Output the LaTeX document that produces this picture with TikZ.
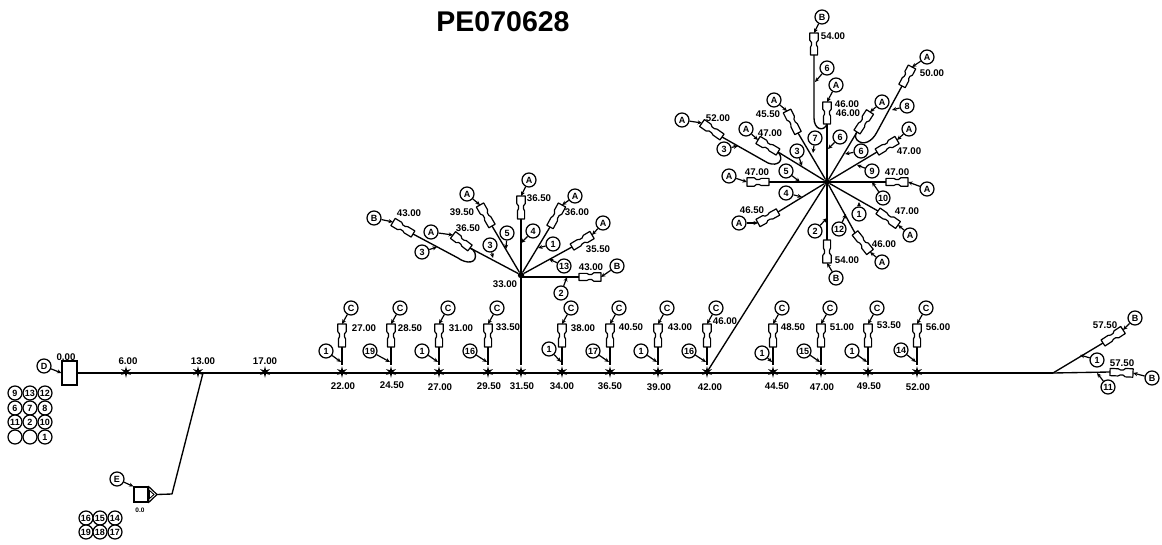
\documentclass[tikz,border=0pt]{standalone}
\usepackage{fontspec}
\setmainfont{Liberation Sans}
\usetikzlibrary{arrows.meta,shapes.geometric}
\newcount\nn
\tikzset{
  wire/.style={line width=1.35pt,line join=round},
  lead/.style={line width=1.2pt,-{Stealth[length=4.5pt,width=4pt]}},
  circ/.style={circle,draw,line width=1.25pt,inner sep=0pt,minimum size=14pt,fill=white,font=\fontsize{9}{9}\selectfont\bfseries},
  val/.style={inner sep=0pt,font=\fontsize{9.7}{10}\selectfont\bfseries},
  body/.style={draw,fill=white,line width=1.2pt,line join=round},
  splice/.style={star,star points=6,star point ratio=3,fill=black,inner sep=0pt,minimum size=12pt},
  hubdot/.style={circle,fill=black,inner sep=0pt,minimum size=6.5pt},
}
% bone{name}{head x}{head y}{tail x}{tail y}
\newcommand\bone[5]{%
  \pgfmathsetmacro\bang{atan2(-(#5-#3),#4-#2)}%
  \pgfmathsetmacro\blen{veclen(#4-#2,#5-#3)}%
  \begin{scope}[shift={(#2,#3)},rotate=\bang,x=1pt,y=1pt]
    \draw[body] (0,-4.2) -- ({0.33*\blen},-4.2) -- ({0.43*\blen},-2.5) -- ({0.55*\blen},-2.5) -- ({0.65*\blen},-3.6) -- (\blen,-3.6) -- (\blen,3.6) -- ({0.65*\blen},3.6) -- ({0.55*\blen},2.5) -- ({0.43*\blen},2.5) -- ({0.33*\blen},4.2) -- (0,4.2) -- cycle;
    \coordinate (#1-h) at (0,0);
    \coordinate (#1-t) at (\blen,0);
  \end{scope}}
% numbered circle with a leader to the wire
\newcommand\cl[5]{\global\advance\nn by 1
  \node[circ] (c\the\nn) at (#1,#2) {#3};
  \coordinate (e\the\nn) at (#4,#5);
  \draw[lead] (c\the\nn) -- (e\the\nn);}
% lettered circle with a leader to a bone head
\newcommand\tip[4]{\global\advance\nn by 1
  \node[circ] (c\the\nn) at (#2,#3) {#4};
  \draw[lead] (c\the\nn) -- (#1-h);}
\newcommand\val[3]{\global\advance\nn by 1
  \node[val] (v\the\nn) at (#1,#2) {#3};}
\newcommand\plain[3]{\global\advance\nn by 1
  \node[circ] (c\the\nn) at (#1,#2) {#3};}
\begin{document}
\begin{tikzpicture}[x=1pt,y=-1pt]
\useasboundingbox (0,0) rectangle (1162,545);
\node[inner sep=0pt,font=\fontsize{28.5}{30}\selectfont\bfseries] (title) at (503,22) {PE070628};

% legends
\foreach \x/\y/\t in {15/393/9,30/393/13,45/393/12,15/408/6,30/408/7,45/408/8,15/422/11,30/422/2,45/422/10,15/437/,30/437/,45/437/1,86/518/16,100/518/15,115/518/14,86/532/19,100/532/18,115/532/17}{\plain{\x}{\y}{\t}}

% left end
\node[draw,fill=white,line width=1.1pt,minimum width=15pt,minimum height=24pt,inner sep=0pt] (rect) at (69.5,373) {};
\node[circ] (cD) at (44,366) {D};
\draw[lead] (cD) -- (rect.west);
\val{66}{357}{0.00}
\coordinate (fork) at (1053,373);
\draw[wire] (rect.east) -- (fork);
\foreach \x/\t/\lx in {126/6.00/128,198/13.00/203,265/17.00/265}{
  \node[splice] (s\x) at (\x,372) {};
  \val{\lx}{361}{\t}}
% lower left connector
\coordinate (j13) at (203,373);
\coordinate (bend) at (172,494);
\node[draw,fill=white,line width=1.1pt,minimum width=14pt,minimum height=15pt,inner sep=0pt] (box) at (141,494.5) {};
\coordinate (tipE) at (157,494.5);
\draw[body] (box.north east) -- (tipE) -- (box.south east) -- cycle;
\draw[line width=0.9pt] (149.5,490.5) -- (154,494.5) -- (149.5,498.5) -- cycle;
\draw[wire] (j13) -- (bend) -- (tipE);
\node[circ] (cE) at (117,479) {E};
\draw[lead] (cE) -- (box.north west);
\node[val,font=\fontsize{6.5}{7}\selectfont\bfseries] (v00) at (140,510) {0.0};

% drops along the main line
\foreach \x/\n/\nx/\ny/\t/\tx/\ty/\b/\bx/\by in {
 342/1/326/351/27.00/364/328/22.00/343/386,
 391/19/370/351/28.50/410/328/24.50/392/385,
 439/1/422/351/31.00/461/328/27.00/440/387,
 488/16/470/351/33.50/508/327/29.50/489/386,
 562/1/549/349/38.00/583/328/34.00/562/386,
 610/17/593/351/40.50/631/327/36.50/610/386,
 658/1/641/351/43.00/680/327/39.00/659/387,
 707/16/689/351/46.00/725/321/42.00/710/387,
 773/1/762/353/48.50/793/327/44.50/777/386,
 821/15/804/351/51.00/842/327/47.00/822/387,
 868/1/852/351/53.50/889/325/49.50/869/386,
 917/14/901/350/56.00/938/327/52.00/918/387}{
  \node[splice] (d\x) at (\x,372) {};
  \bone{b\x}{\x}{324}{\x}{347}
  \draw[wire] (b\x-t) -- (d\x);
  \pgfmathsetmacro\cx{\x+9}
  \tip{b\x}{\cx}{308}{C}
  \pgfmathsetmacro\ex{\x-1}
  \cl{\nx}{\ny}{\n}{\ex}{362}
  \val{\tx}{\ty}{\t}
  \val{\bx}{\by}{\b}
}
\node[splice] (d521) at (521,372) {};
\val{522}{386}{31.50}

% first star
\node[hubdot] (hubA) at (521,275) {};
\draw[wire] (d521) -- (hubA);
\val{505}{284}{33.00}
\bone{a1}{521}{196}{521}{219}
\bone{a2}{480}{205}{492}{226}
\bone{a3}{453}{235}{470}{248}
\bone{a4}{393}{222}{413}{234}
\bone{a5}{562}{205}{550}{227}
\bone{a6}{592}{235}{572}{247}
\bone{a7}{601}{277}{579}{277}
\foreach \n in {1,2,3,5,6}{\draw[wire] (hubA) -- (a\n-t);}
\coordinate (hubAr) at (521,277);
\draw[wire] (hubAr) -- (a7-t);
\draw[wire] (a4-t) -- (458,258) .. controls (466,264) and (478,264) .. (475,253) .. controls (474,250) and (472,249) .. (a3-t);
\tip{a1}{529}{180}{A}\val{539}{198}{36.50}
\tip{a2}{467}{194}{A}\val{462}{212}{39.50}
\tip{a3}{431}{232}{A}\val{468}{228}{36.50}
\tip{a4}{374}{218}{B}\val{409}{213}{43.00}
\tip{a5}{575}{196}{A}\val{577}{212}{36.00}
\tip{a6}{603}{223}{A}\val{598}{249}{35.50}
\tip{a7}{617}{266}{B}\val{591}{267}{43.00}
\cl{533}{231}{4}{521}{243}
\cl{507}{233}{5}{506}{249}
\cl{490}{245}{3}{493}{258}
\cl{422}{252}{3}{437}{247}
\cl{553}{244}{1}{538}{248}
\cl{564}{266}{13}{549}{259}
\cl{561}{293}{2}{567}{277}

% second star
\node[hubdot] (hubB) at (827,182) {};
\draw[wire] (d707) -- (hubB);
\bone{h1}{827}{263}{827}{240}
\bone{h2}{870}{252}{855}{233}
\bone{h3}{898}{225}{878}{211}
\bone{h4}{908}{182}{886}{182}
\bone{h5}{897}{140}{877}{152}
\bone{h6}{870}{112}{857}{132}
\bone{h7}{912}{67}{902}{86}
\bone{h8}{827}{102}{827}{124}
\bone{h9}{814}{33}{814}{55}
\bone{h10}{787}{111}{798}{133}
\bone{h11}{702}{123}{722}{137}
\bone{h12}{758}{140}{778}{152}
\bone{h13}{747}{182}{769}{182}
\bone{h14}{758}{223}{778}{212}
\foreach \n in {1,2,3,4,5,6,8,10,12,13,14}{\draw[wire] (hubB) -- (h\n-t);}
\draw[wire] (h7-t) -- (877,132) .. controls (872,142) and (863,146) .. (857,140) .. controls (855,137) and (855,135) .. (h6-t);
\draw[wire] (h9-t) -- (814,118) .. controls (814,130) and (824,132) .. (h8-t);
\draw[wire] (h11-t) -- (768,163) .. controls (778,167) and (785,160) .. (h12-t);
\tip{h1}{836}{278}{B}\val{847}{260}{54.00}
\tip{h2}{882}{262}{A}\val{884}{244}{46.00}
\tip{h3}{910}{235}{A}\val{907}{211}{47.00}
\tip{h4}{927}{189}{A}\val{897}{172}{47.00}
\tip{h5}{909}{129}{A}\val{909}{151}{47.00}
\tip{h6}{882}{102}{A}\val{848}{113}{46.00}
\tip{h7}{927}{57}{A}\val{932}{73}{50.00}
\tip{h8}{836}{85}{A}\val{847}{104}{46.00}
\tip{h9}{822}{17}{B}\val{833}{36}{54.00}
\tip{h10}{774}{100}{A}\val{768}{114}{45.50}
\tip{h11}{682}{120}{A}\val{718}{118}{52.00}
\tip{h12}{746}{129}{A}\val{770}{133}{47.00}
\tip{h13}{729}{176}{A}\val{757}{172}{47.00}
\tip{h14}{739}{223}{A}\val{752}{210}{46.50}
\cl{815}{231}{2}{827}{218}
\cl{839}{229}{12}{846}{214}
\cl{859}{214}{1}{859}{202}
\cl{883}{198}{10}{872}{182}
\cl{872}{171}{9}{857}{165}
\cl{861}{151}{6}{845}{154}
\cl{907}{106}{8}{892}{110}
\cl{840}{137}{6}{828}{149}
\cl{827}{68}{6}{815}{82}
\cl{815}{138}{7}{813}{153}
\cl{724}{149}{3}{738}{146}
\cl{797}{151}{3}{802}{166}
\cl{786}{171}{5}{800}{182}
\cl{786}{193}{4}{802}{197}

% right end
\bone{r1}{1123}{330}{1103}{343}
\bone{r2}{1133}{373}{1110}{372}
\draw[wire] (fork) -- (r1-t);
\draw[wire] (fork) -- (r2-t);
\tip{r1}{1135}{318}{B}\val{1105}{325}{57.50}
\tip{r2}{1152}{378}{B}\val{1122}{363}{57.50}
\cl{1097}{360}{1}{1080}{355}
\cl{1108}{387}{11}{1097}{373}
\end{tikzpicture}
\end{document}
